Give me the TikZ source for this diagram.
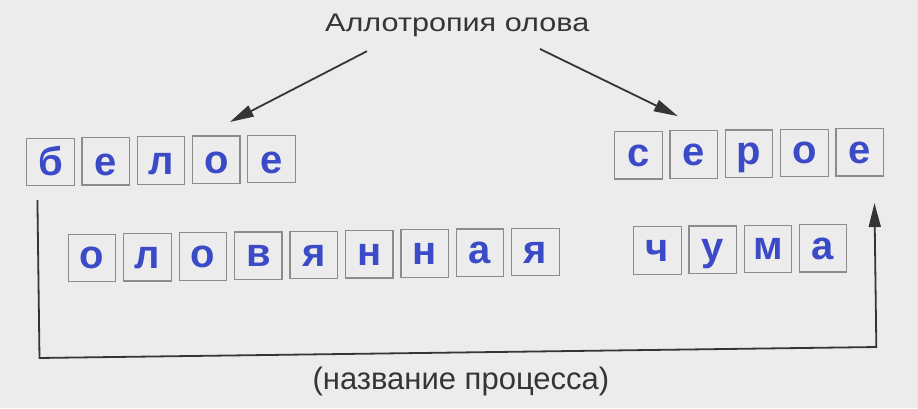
\documentclass[tikz,border=0pt]{standalone}
\usepackage{fontspec}
\setmainfont{Liberation Sans}
\newfontfamily\titlefont[FakeStretch=1.2]{Liberation Sans}
\usetikzlibrary{arrows.meta}
\definecolor{bg}{HTML}{ECECEC}
\definecolor{ink}{HTML}{353535}
\definecolor{boxline}{HTML}{8C8C8C}
\definecolor{letter}{HTML}{3B4BC8}
\begin{document}
\begin{tikzpicture}[x=1pt,y=-1pt,
  lbox/.style={draw=boxline, line width=1.2pt, minimum size=47.5pt, inner sep=0pt,
    text=letter, font=\fontsize{40}{40}\selectfont\bfseries, text height=#1, text depth=0pt},
  lbox/.default=22pt,
  tip/.style={-{Triangle[length=24pt,width=12pt]}},
  conn/.style={draw=ink, line width=1.8pt, tip},
  lbl/.style={text=ink, inner sep=0pt, anchor=base}]
\fill[bg] (0,0) rectangle (918,408);
\useasboundingbox (0,0) rectangle (918,408);
\begin{scope}[rotate around={0.75:(459,204)}]
  \node[lbl, font=\titlefont\fontsize{25.5}{25.5}\selectfont] (title) at (459.5,31.7) {Аллотропия олова};
  \node[lbl, font=\fontsize{31}{31}\selectfont] (proc) at (458.5,390) {(название процесса)};
  % white tin
  \foreach \ch [count=\i from 0] in {б,е,л,о,е}
    \node[lbox=28pt] (b\i) at (51.1+55.25*\i,156.6) {\ch};
  % grey tin
  \foreach \ch [count=\i from 0] in {с,е,р,о,е}
    \node[lbox] (s\i) at (639.1+55.3*\i,157.5) {\ch};
  % tin plague words
  \foreach \ch [count=\i from 0] in {о,л,о,в,я,н,н,а,я}
    \node[lbox] (o\i) at (91.3+55.45*\i,253.1) {\ch};
  \foreach \ch [count=\i from 0] in {ч,у,м,а}
    \node[lbox] (c\i) at (656.9+55.2*\i,253) {\ch};
  % arrows from title
  \coordinate (a1s) at (369,50);
  \coordinate (a1e) at (231,119);
  \coordinate (a2s) at (542,50);
  \coordinate (a2e) at (679,119);
  \draw[conn] (a1s) -- (a1e);
  \draw[conn] (a2s) -- (a2e);
  % process line
  \coordinate (ps) at (37.5,194.5);
  \coordinate (pl) at (37.5,352.5);
  \coordinate (pr) at (874.5,352.5);
  \coordinate (pe) at (874.5,208.5);
  \draw[conn] (ps) -- (pl) -- (pr) -- (pe);
\end{scope}
\end{tikzpicture}
\end{document}
